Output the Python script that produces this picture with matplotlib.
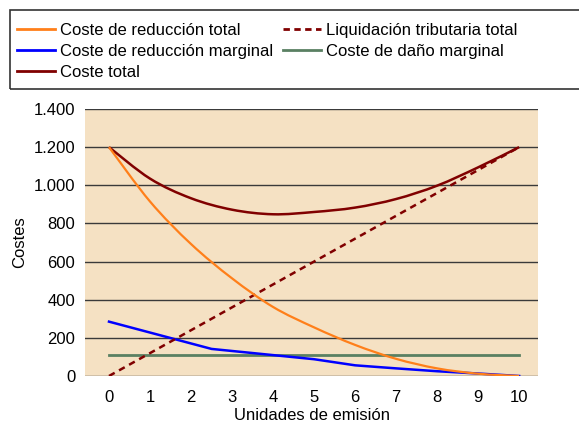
import numpy as np
import matplotlib
matplotlib.use("Agg")
import matplotlib.pyplot as plt
from matplotlib.path import Path
from matplotlib.patches import PathPatch, Rectangle
from matplotlib.lines import Line2D
from matplotlib.ticker import FuncFormatter

plt.rcParams['font.family'] = ['Liberation Sans', 'DejaVu Sans']

# Data
units = [0, 1, 2, 3, 4, 5, 6, 7, 8, 9, 10]
coste_red_total = [1200, 915, 692, 512, 362, 255, 163, 90, 40, 12, 0]
coste_total = [1200, 1035, 932, 872, 848, 860, 883, 928, 998, 1094, 1200]
liquidacion = [0, 120, 240, 360, 480, 600, 720, 840, 960, 1080, 1200]
dano_marginal = [110, 110, 110, 110, 110, 110, 110, 110, 110, 110, 110]
marg_x = [0, 2.5, 5, 6, 7, 8, 9, 10]
coste_red_marginal = [285, 142, 88, 56, 40, 25, 13, 0]

y_ticks = [0, 200, 400, 600, 800, 1000, 1200, 1400]

c_orange = '#FF7F1A'
c_blue = '#0000FF'
c_red = '#800000'
c_green = '#5A8062'
c_bg = '#F5E1C3'


def smooth_path(xs, ys):
    # excel-like smoothed line as cubic bezier segments
    pts = np.column_stack([xs, ys]).astype(float)
    n = len(pts)
    verts = [pts[0]]
    codes = [Path.MOVETO]
    for i in range(n - 1):
        p0 = pts[i - 1] if i > 0 else pts[i]
        p1 = pts[i]
        p2 = pts[i + 1]
        p3 = pts[i + 2] if i + 2 < n else pts[i + 1]
        verts += [p1 + (p2 - p0) / 6.0, p2 - (p3 - p1) / 6.0, p2]
        codes += [Path.CURVE4] * 3
    return Path(verts, codes)


fig = plt.figure(figsize=(5.79, 4.29), dpi=100)
ax = fig.add_axes([85 / 579, 1 - 376 / 429, 453 / 579, 267 / 429])
ax.set_facecolor(c_bg)

for v in y_ticks:
    ax.axhline(v, color='#3a3a3a', lw=1.0, zorder=1)

ax.plot(units, dano_marginal, color=c_green, lw=2.0, zorder=2)
ax.plot(marg_x, coste_red_marginal, color=c_blue, lw=1.8, zorder=3)
ax.add_patch(PathPatch(smooth_path(units, coste_total), fill=False,
                       edgecolor=c_red, lw=1.8, zorder=4))
ax.plot(units, liquidacion, color=c_red, lw=1.8, ls=(0, (2.6, 2.0)), zorder=5)
ax.add_patch(PathPatch(smooth_path(units, coste_red_total), fill=False,
                       edgecolor=c_orange, lw=1.6, zorder=6))

ax.set_xlim(-0.585, 10.46)
ax.set_ylim(0, 1400)
ax.set_xticks(units)
ax.set_yticks(y_ticks)
ax.yaxis.set_major_formatter(FuncFormatter(lambda v, p: f"{int(v):,}".replace(",", ".")))
ax.tick_params(length=0, labelsize=12, colors='black')
ax.tick_params(axis='y', pad=7)
ax.tick_params(axis='x', pad=10)
for s in ax.spines.values():
    s.set_visible(False)

ax.set_xlabel('Unidades de emisión', fontsize=12, labelpad=2.5)
ax.set_ylabel('Costes', fontsize=12, labelpad=5)

handles = [
    Line2D([], [], color=c_orange, lw=2.0),
    Line2D([], [], color=c_blue, lw=2.0),
    Line2D([], [], color=c_red, lw=2.0),
    Line2D([], [], color=c_red, lw=2.0, ls=(0, (2.3, 1.6))),
    Line2D([], [], color=c_green, lw=2.0),
]
labels = ['Coste de reducción total', 'Coste de reducción marginal', 'Coste total',
          'Liquidación tributaria total', 'Coste de daño marginal']

fig.patches.append(Rectangle((10 / 579, 1 - 89 / 429), 700 / 579, 79 / 429,
                             transform=fig.transFigure, fill=False,
                             edgecolor='#333333', lw=1.2))
fig.legend(handles, labels, loc='upper left', ncol=2, frameon=False,
           bbox_to_anchor=(17 / 579, 1 - 23 / 429), fontsize=12,
           handlelength=2.3, handletextpad=0.3, columnspacing=0.55,
           labelspacing=0.36, borderpad=0, borderaxespad=0)

fig.savefig('out.png', dpi=100)
